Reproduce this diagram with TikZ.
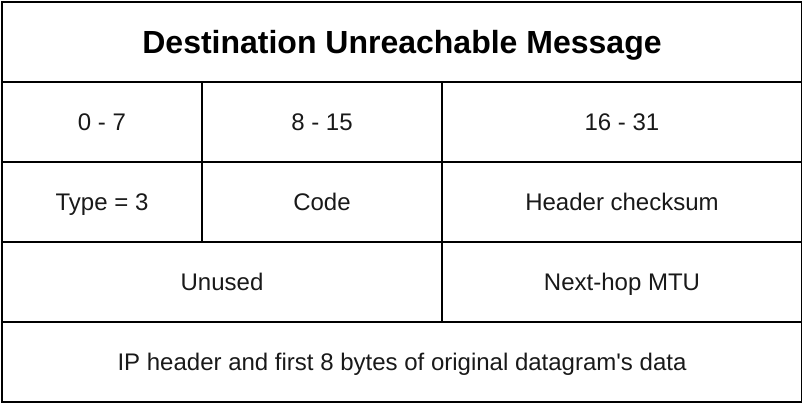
\documentclass[tikz,border=0pt]{standalone}
\usepackage{fontspec}
\setmainfont{Liberation Sans}
\begin{document}
\begin{tikzpicture}[x=1pt,y=-1pt,
  cell/.style={draw=black, line width=2pt, rectangle, inner sep=0pt,
    anchor=north west, text=black!90, text height=17.2pt, text depth=0pt,
    font=\fontsize{24}{28}\selectfont},
  titlecell/.style={cell, text=black, text height=22.9pt,
    font=\bfseries\fontsize{32}{38}\selectfont}]
  \useasboundingbox (0,0) rectangle (802,402);
  \fill[white] (0,0) rectangle (802,402);
  % title row
  \node[titlecell, minimum width=800pt, minimum height=80pt] (title) at (1,1) {Destination Unreachable Message};
  % bit ranges
  \node[cell, minimum width=200pt, minimum height=80pt] (b0) at (1,81) {0 - 7};
  \node[cell, minimum width=240pt, minimum height=80pt] (b8) at (201,81) {8 - 15};
  \node[cell, minimum width=360pt, minimum height=80pt] (b16) at (441,81) {16 - 31};
  % first word
  \node[cell, minimum width=200pt, minimum height=80pt] (type) at (1,161) {Type = 3};
  \node[cell, minimum width=240pt, minimum height=80pt] (code) at (201,161) {Code};
  \node[cell, minimum width=360pt, minimum height=80pt] (csum) at (441,161) {Header checksum};
  % second word
  \node[cell, minimum width=440pt, minimum height=80pt] (unused) at (1,241) {Unused};
  \node[cell, minimum width=360pt, minimum height=80pt] (mtu) at (441,241) {Next-hop MTU};
  % payload
  \node[cell, minimum width=800pt, minimum height=80pt] (data) at (1,321) {IP header and first 8 bytes of original datagram\textquotesingle s data};
\end{tikzpicture}
\end{document}
